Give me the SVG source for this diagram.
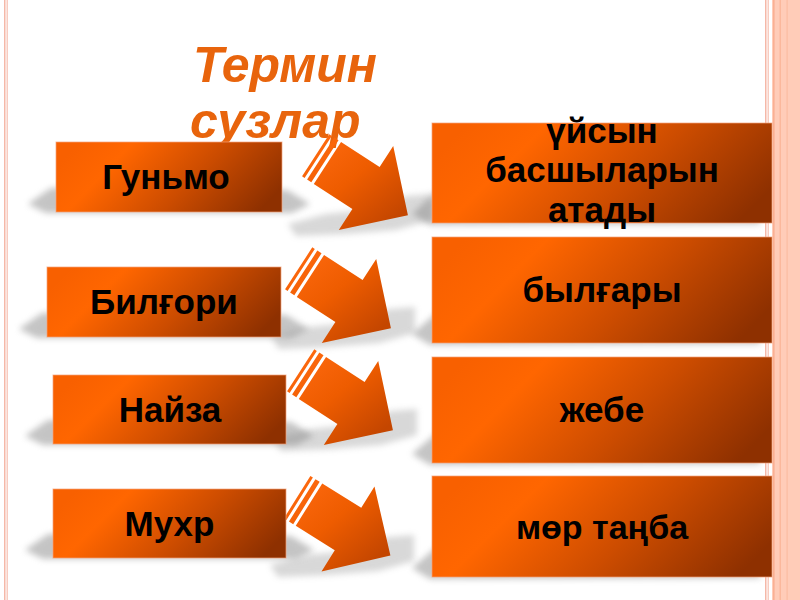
<svg xmlns="http://www.w3.org/2000/svg" width="800" height="600" viewBox="0 0 800 600">
<style>
.box{stroke:#F4A47C;stroke-width:1;stroke-opacity:0.7}
.lbl{font-family:"Liberation Sans",Arial,sans-serif;font-weight:bold;fill:#000;text-anchor:middle}
.title{font-family:"Liberation Sans",Arial,sans-serif;font-weight:bold;font-style:italic;font-size:50px;fill:#E8640C}
.shd{fill:#8a8a8a;opacity:0.5;filter:url(#blur)}
.ashd{fill:#8a8a8a;opacity:0.33;filter:url(#blur)}
</style>
<defs>
<linearGradient id="boxg" x1="0" y1="0.35" x2="1" y2="0.65">
<stop offset="0" stop-color="#F86000"/>
<stop offset="0.22" stop-color="#FF6600"/>
<stop offset="0.6" stop-color="#CC4C00"/>
<stop offset="1" stop-color="#8E3000"/>
</linearGradient>
<linearGradient id="arrg" x1="0" y1="0" x2="1" y2="0.3">
<stop offset="0" stop-color="#FF6A10"/>
<stop offset="0.5" stop-color="#EE5C00"/>
<stop offset="1" stop-color="#C44600"/>
</linearGradient>
<filter id="blur" x="-30%" y="-50%" width="160%" height="200%"><feGaussianBlur stdDeviation="3"/></filter>
<g id="arrow">
<path d="M-60,-25 h3 v50 h-3 z M-54,-25 h5 v50 h-5 z M-46,-25 H0 V-50 L50,0 L0,50 V25 H-46 Z" fill="url(#arrg)"/>
</g>
</defs>
<rect width="800" height="600" fill="#fff"/>
<!-- frame -->
<g id="frame">
<rect x="4" y="0" width="1.5" height="600" fill="#F5B8A8"/>
<rect x="6.5" y="0" width="1.5" height="600" fill="#F8CCC0"/>
<rect x="765" y="0" width="1.5" height="600" fill="#F5B8A8"/>
<rect x="767.5" y="0" width="1.5" height="600" fill="#F8CCC0"/>
<rect x="772" y="0" width="28" height="600" fill="#FFCCB8"/>
<rect x="773" y="0" width="1.6" height="600" fill="#FAB093"/>
<rect x="779.5" y="0" width="1.5" height="600" fill="#FBB89C"/>
<rect x="786.5" y="0" width="1.2" height="600" fill="#FBBCA2"/>
</g>
<!-- title -->
<g id="title">
<text class="title" x="193" y="82">Термин</text>
<text class="title" x="190" y="138">сузлар</text>
</g>
<!-- connectors -->
<g id="connectors">
<g id="arrow1">
<path class="ashd" transform="translate(366,188)" d="M-78,36 L-40,26 L0,22 L40,8 L66,6 L66,32 L30,42 L-20,46 L-70,48 Z"/>
<use href="#arrow" transform="translate(366,188) rotate(33)"/>
</g>
<g id="arrow2">
<path class="ashd" transform="translate(349,301)" d="M-78,36 L-40,26 L0,22 L40,8 L66,6 L66,32 L30,42 L-20,46 L-70,48 Z"/>
<use href="#arrow" transform="translate(349,301) rotate(33)"/>
</g>
<g id="arrow3">
<path class="ashd" transform="translate(351,403)" d="M-78,36 L-40,26 L0,22 L40,8 L66,6 L66,32 L30,42 L-20,46 L-70,48 Z"/>
<use href="#arrow" transform="translate(351,403) rotate(33)"/>
</g>
<g id="arrow4">
<path class="ashd" transform="translate(348,529)" d="M-78,36 L-40,26 L0,22 L40,8 L66,6 L66,32 L30,42 L-20,46 L-70,48 Z"/>
<use href="#arrow" transform="translate(348,529) rotate(32)"/>
</g>
</g>
<!-- left nodes -->
<g id="node-gunmo">
<path class="shd" d="M28,204 L51,188 L287,190 L310,204 L292,213 L46,213 Z"/>
<rect class="box" x="56" y="142" width="226" height="70" fill="url(#boxg)"/>
<text class="lbl" x="166" y="189" font-size="35">Гуньмо</text>
</g>
<g id="node-bilgori">
<path class="shd" d="M19,329 L42,313 L286,315 L309,329 L291,338 L37,338 Z"/>
<rect class="box" x="47" y="267" width="234" height="70" fill="url(#boxg)"/>
<text class="lbl" x="164" y="314" font-size="35">Билғори</text>
</g>
<g id="node-nayza">
<path class="shd" d="M25,436 L48,420 L291,422 L314,436 L296,445 L43,445 Z"/>
<rect class="box" x="53" y="375" width="233" height="69" fill="url(#boxg)"/>
<text class="lbl" x="170" y="422" font-size="35">Найза</text>
</g>
<g id="node-mukhr">
<path class="shd" d="M25,550 L48,534 L291,536 L314,550 L296,559 L43,559 Z"/>
<rect class="box" x="53" y="489" width="233" height="69" fill="url(#boxg)"/>
<text class="lbl" x="169.5" y="536" font-size="35">Мухр</text>
</g>
<!-- right nodes -->
<g id="node-uysyn">
<path class="shd" d="M412,214 L440,188 L760,190 L760,224 L430,225 Z"/>
<rect class="box" x="432" y="123" width="340" height="100" fill="url(#boxg)"/>
<text class="lbl" x="602" y="143" font-size="35">үйсын</text>
<text class="lbl" x="602" y="182" font-size="35">басшыларын</text>
<text class="lbl" x="602" y="222" font-size="35">атады</text>
</g>
<g id="node-bylgary">
<path class="shd" d="M412,334 L440,310 L760,310 L760,344 L430,345 Z"/>
<rect class="box" x="432" y="237" width="340" height="106" fill="url(#boxg)"/>
<text class="lbl" x="602" y="302" font-size="35">былғары</text>
</g>
<g id="node-zhebe">
<path class="shd" d="M412,454 L440,430 L760,430 L760,464 L430,465 Z"/>
<rect class="box" x="432" y="357" width="340" height="106" fill="url(#boxg)"/>
<text class="lbl" x="602" y="422" font-size="35">жебе</text>
</g>
<g id="node-mor">
<path class="shd" d="M412,568 L440,544 L760,544 L760,578 L430,579 Z"/>
<rect class="box" x="432" y="476" width="340" height="101" fill="url(#boxg)"/>
<text class="lbl" x="602" y="539" font-size="34">мөр таңба</text>
</g>
</svg>
